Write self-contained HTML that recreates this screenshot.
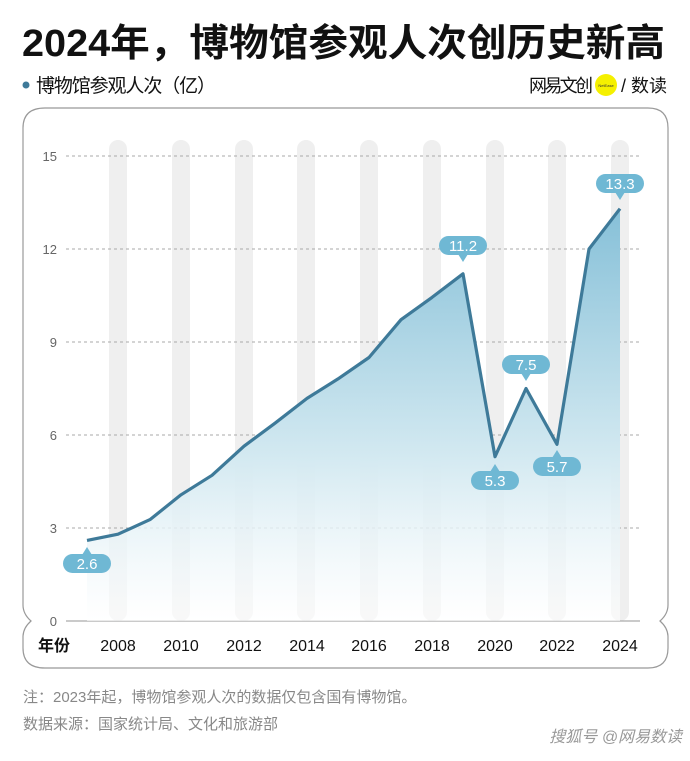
<!DOCTYPE html><html><head><meta charset="utf-8"><style>
body{margin:0;width:690px;height:756px;background:#fff;overflow:hidden;font-family:"Liberation Sans","Noto Sans CJK SC",sans-serif}
</style></head><body>
<svg width="690" height="756" xmlns="http://www.w3.org/2000/svg" font-family="Liberation Sans, Noto Sans CJK SC, sans-serif">
<defs><linearGradient id="g" x1="0" y1="0" x2="0" y2="1"><stop offset="0" stop-color="#86c0d8"/><stop offset="0.6" stop-color="#d3e9f1"/><stop offset="1" stop-color="#ffffff" stop-opacity="0.6"/></linearGradient></defs>
<text x="22" y="56" font-size="38" font-weight="bold" fill="#111" textLength="643" lengthAdjust="spacingAndGlyphs">2024年，博物馆参观人次创历史新高</text>
<circle cx="26" cy="85" r="3.5" fill="#3e7a99"/>
<text x="36" y="92" font-size="19" fill="#111" textLength="180">博物馆参观人次（亿）</text>
<text x="529" y="92" font-size="18" fill="#111" textLength="64">网易文创</text>
<circle cx="606" cy="85" r="11" fill="#f5f000"/>
<text x="606" y="87" font-size="4" text-anchor="middle" fill="#333">NetEase</text>
<text x="621" y="92" font-size="18" fill="#111">/ 数读</text>
<path d="M45,108 H648 Q668,108 668,128 V605 Q668,614 660,621 Q668,628 668,637 V648 Q668,668 648,668 H45 Q23,668 23,648 V637 Q23,628 31,621 Q23,614 23,605 V128 Q23,108 45,108 Z" fill="none" stroke="#999" stroke-width="1.2"/>
<g fill="#efefef">
<rect x="109" y="140" width="18" height="481" rx="9"/><rect x="172" y="140" width="18" height="481" rx="9"/><rect x="235" y="140" width="18" height="481" rx="9"/><rect x="297" y="140" width="18" height="481" rx="9"/><rect x="360" y="140" width="18" height="481" rx="9"/><rect x="423" y="140" width="18" height="481" rx="9"/><rect x="486" y="140" width="18" height="481" rx="9"/><rect x="548" y="140" width="18" height="481" rx="9"/><rect x="611" y="140" width="18" height="481" rx="9"/>
</g>
<g stroke="#aaa" stroke-dasharray="3,3" stroke-width="1">
<line x1="66" y1="156" x2="640" y2="156"/><line x1="66" y1="249" x2="640" y2="249"/><line x1="66" y1="342" x2="640" y2="342"/><line x1="66" y1="435" x2="640" y2="435"/><line x1="66" y1="528" x2="640" y2="528"/>
</g>
<line x1="66" y1="621" x2="640" y2="621" stroke="#aaa" stroke-width="1.2"/>
<g font-size="13" fill="#666" text-anchor="end">
<text x="57" y="161">15</text><text x="57" y="254">12</text><text x="57" y="347">9</text><text x="57" y="440">6</text><text x="57" y="533">3</text><text x="57" y="626">0</text>
</g>
<path d="M87,540.4 L118,534.2 L150,519.6 L181,494.8 L212,475.3 L244,446.2 L275,423.2 L307,398.4 L338,378.9 L369,357.5 L401,319.7 L432,297.4 L463,273.8 L495,456.7 L526,388.5 L557,444.3 L589,249 L620,208.7 L620,621 L87,621 Z" fill="url(#g)"/>
<polyline points="87,540.4 118,534.2 150,519.6 181,494.8 212,475.3 244,446.2 275,423.2 307,398.4 338,378.9 369,357.5 401,319.7 432,297.4 463,273.8 495,456.7 526,388.5 557,444.3 589,249 620,208.7" fill="none" stroke="#3e7a99" stroke-width="3.2" stroke-linejoin="round"/>
<g fill="#6fb8d4">
<rect x="63" y="554" width="48" height="19" rx="9.5"/><path d="M82,555 L87,547 L92,555Z"/>
<rect x="439" y="236" width="48" height="19" rx="9.5"/><path d="M458,254 L463,262 L468,254Z"/>
<rect x="471" y="471" width="48" height="19" rx="9.5"/><path d="M490,472 L495,464 L500,472Z"/>
<rect x="502" y="355" width="48" height="19" rx="9.5"/><path d="M521,373 L526,381 L531,373Z"/>
<rect x="533" y="457" width="48" height="19" rx="9.5"/><path d="M552,458 L557,450 L562,458Z"/>
<rect x="596" y="174" width="48" height="19" rx="9.5"/><path d="M615,192 L620,200 L625,192Z"/>
</g>
<g fill="#fff" font-size="15" text-anchor="middle">
<text x="87" y="569">2.6</text><text x="463" y="251">11.2</text><text x="495" y="486">5.3</text><text x="526" y="370">7.5</text><text x="557" y="472">5.7</text><text x="620" y="189">13.3</text>
</g>
<g font-size="16" fill="#111" text-anchor="middle">
<text x="54" y="651" font-weight="bold">年份</text>
<text x="118" y="651">2008</text><text x="181" y="651">2010</text><text x="244" y="651">2012</text><text x="307" y="651">2014</text><text x="369" y="651">2016</text><text x="432" y="651">2018</text><text x="495" y="651">2020</text><text x="557" y="651">2022</text><text x="620" y="651">2024</text>
</g>
<text x="23" y="702" font-size="15" fill="#888">注：2023年起，博物馆参观人次的数据仅包含国有博物馆。</text>
<text x="23" y="729" font-size="15" fill="#888">数据来源：国家统计局、文化和旅游部</text>
<text x="682" y="742" font-size="16" fill="#999" text-anchor="end" font-style="italic">搜狐号 @网易数读</text>
</svg>
</body></html>
